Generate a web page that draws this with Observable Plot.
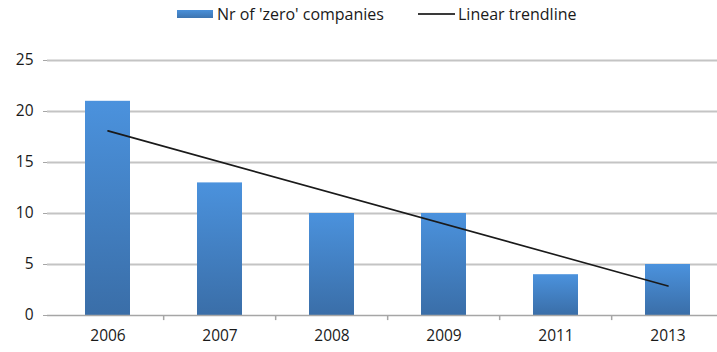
<!DOCTYPE html>
<html>
<head>
<meta charset="utf-8">
<script src="https://cdn.jsdelivr.net/npm/d3@7"></script>
<script src="https://cdn.jsdelivr.net/npm/@observablehq/plot@0.6"></script>
<style>
  html, body { margin: 0; padding: 0; background: #fff; }
  body { width: 717px; height: 352px; overflow: hidden; font-family: "Open Sans", sans-serif; color: #1a1a1a; }
  #legend { position: relative; height: 30px; font-size: 16px; }
  #legend .item { position: absolute; top: 3px; display: flex; align-items: center; white-space: nowrap; }
  #legend .sw-bar { width: 36px; height: 8px; background: linear-gradient(#4a90da, #3d74b0); margin-right: 4px; }
  #legend .sw-line { width: 37px; height: 2px; background: #3a3a3a; margin-right: 3px; }
  svg { display: block; }
</style>
</head>
<body>
<div id="legend">
  <div class="item" style="left:177px"><span class="sw-bar"></span><span>Nr of 'zero' companies</span></div>
  <div class="item" style="left:418px"><span class="sw-line"></span><span>Linear trendline</span></div>
</div>
<div id="chart"></div>
<script>
const years = ["2006", "2007", "2008", "2009", "2011", "2013"];
const companies = [21, 13, 10, 10, 4, 5];
const trendYears = ["2006", "2013"];
const trendValues = [18.1, 2.9];
const yTicks = [0, 5, 10, 15, 20, 25];

const bars = years.map((y, i) => ({year: y, value: companies[i]}));
const trend = trendYears.map((y, i) => ({year: y, value: trendValues[i]}));

const xRange = [49, 725];
const step = (xRange[1] - xRange[0]) / years.length;

const chart = Plot.plot({
  width: 717,
  height: 322,
  marginLeft: 47,
  marginRight: 0,
  marginTop: 30,
  marginBottom: 37,
  style: {fontFamily: "Open Sans, sans-serif", fontSize: "15px", color: "#1a1a1a", background: "#fff"},
  x: {domain: years, range: xRange, paddingInner: 0.6, paddingOuter: 0.3, label: null},
  y: {domain: [0, 25], ticks: yTicks, label: null},
  marks: [
    Plot.ruleY(yTicks.filter(d => d > 0), {stroke: "#c4c4c4", strokeWidth: 2}),
    Plot.barY(bars, {x: "year", y: "value", fill: "url(#barGrad)"}),
    Plot.ruleY([0], {stroke: "#a6a6a6", strokeWidth: 1.5}),
    Plot.ruleX(years.slice(1), {x: d => d, y1: 0, y2: -0.5, dx: -step / 2, stroke: "#a6a6a6", strokeWidth: 1.5}),
    Plot.line(trend, {x: "year", y: "value", stroke: "#1a1a1a", strokeWidth: 1.6}),
    Plot.axisY({ticks: yTicks, tickSize: 4, tickPadding: 10, stroke: "#a6a6a6", fill: "#1a1a1a", fontSize: 15.5}),
    Plot.ruleX([0], {x: () => null, frameAnchor: "left", y1: -0.5, y2: 25, stroke: "#a6a6a6", strokeWidth: 1.5}),
    Plot.axisX({tickSize: 0, tickPadding: 14, fill: "#1a1a1a", fontSize: 15.5})
  ]
});

// gradient for bars
const svgNS = "http://www.w3.org/2000/svg";
const defs = document.createElementNS(svgNS, "defs");
const grad = document.createElementNS(svgNS, "linearGradient");
grad.setAttribute("id", "barGrad");
grad.setAttribute("x1", "0"); grad.setAttribute("y1", "0");
grad.setAttribute("x2", "0"); grad.setAttribute("y2", "1");
[["0%", "#4b92dd"], ["100%", "#3a6ea8"]].forEach(([o, c]) => {
  const s = document.createElementNS(svgNS, "stop");
  s.setAttribute("offset", o); s.setAttribute("stop-color", c);
  grad.appendChild(s);
});
defs.appendChild(grad);
chart.insertBefore(defs, chart.firstChild);

document.getElementById("chart").appendChild(chart);
</script>
</body>
</html>
